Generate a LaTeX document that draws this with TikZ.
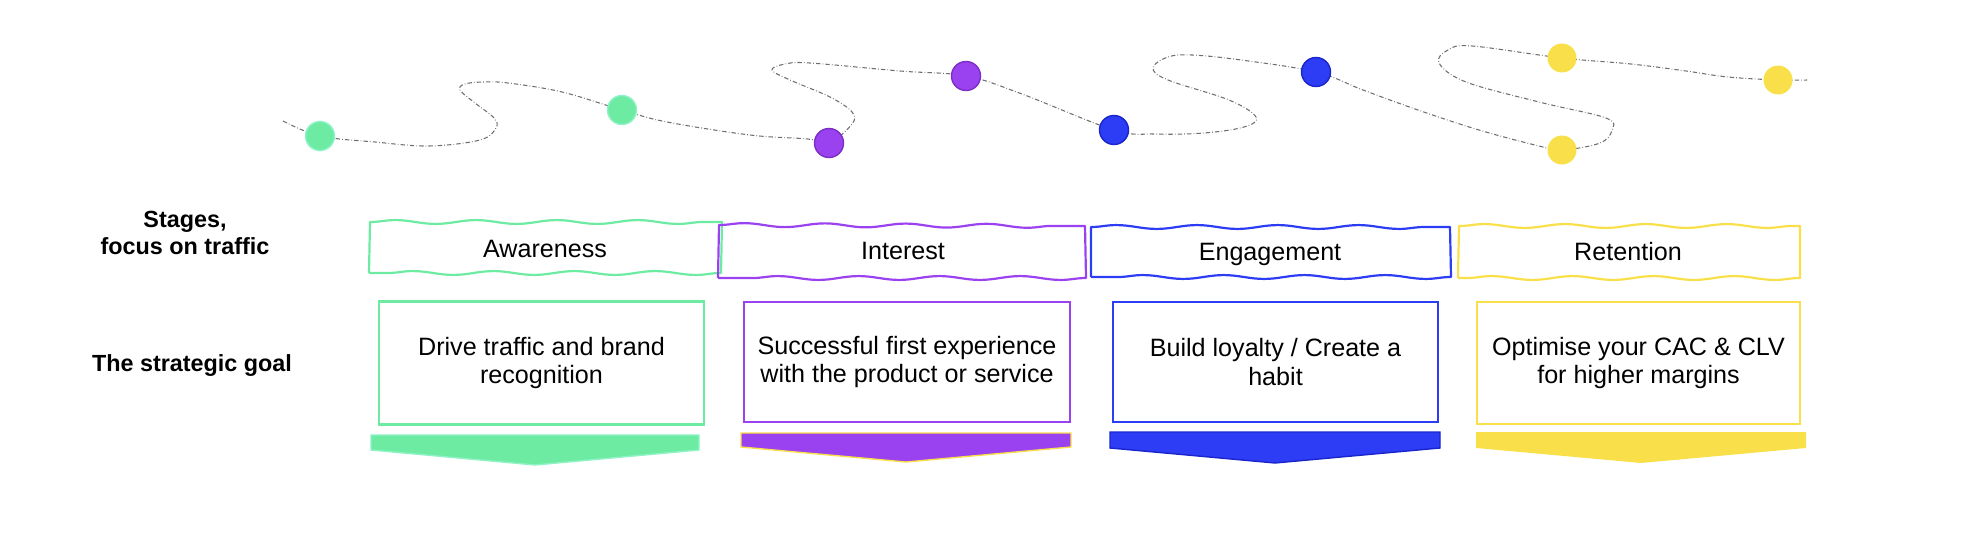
\documentclass[tikz,border=0pt]{standalone}
\usepackage{fontspec}
\setmainfont{Liberation Sans}
\usetikzlibrary{decorations.pathmorphing,backgrounds}
\definecolor{stgreen}{HTML}{6EEBA2}
\definecolor{stgreenline}{HTML}{8FF3C6}
\definecolor{stpurple}{HTML}{9B42F0}
\definecolor{stpurpleline}{HTML}{7A2FC4}
\definecolor{stblue}{HTML}{2D3CF5}
\definecolor{stblueline}{HTML}{1A26CC}
\definecolor{styellow}{HTML}{F9E04B}
\definecolor{trailgray}{HTML}{6E6E6E}

\begin{document}
\begin{tikzpicture}[x=0.02cm, y=-0.02cm,
    dot/.style={circle, minimum size=0.58cm, inner sep=0pt, line width=0.8pt},
    trail/.style={trailgray, line width=0.6pt, dash pattern=on 2.5pt off 1.2pt on 0.4pt off 1.2pt},
    wave/.style={decoration={snake, amplitude=1.1pt, segment length=46pt}},
    stageline/.style={line width=1.25pt, line join=round},
    stagetext/.style={anchor=base, font=\fontsize{14.3}{16}\selectfont},
    goal/.style={draw, line width=1.25pt, inner sep=0pt, align=center, font=\fontsize{14.3}{16.1}\selectfont},
    rowlabel/.style={align=center, font=\bfseries\fontsize{13.3}{15.4}\selectfont}]
      \useasboundingbox (0,0) rectangle (1964,548);
      % dots along the journey
      \node[dot, fill=stgreen, draw=stgreenline] (d1) at (320,136) {};
      \node[dot, fill=stgreen, draw=stgreenline] (d2) at (622,110) {};
      \node[dot, fill=stpurple, draw=stpurpleline] (d3) at (829,143) {};
      \node[dot, fill=stpurple, draw=stpurpleline] (d4) at (966,76) {};
      \node[dot, fill=stblue, draw=stblueline] (d5) at (1114,130) {};
      \node[dot, fill=stblue, draw=stblueline] (d6) at (1316,72) {};
      \node[dot, fill=styellow] (d7) at (1562,58) {};
      \node[dot, fill=styellow] (d8) at (1562,150) {};
      \node[dot, fill=styellow] (d9) at (1778,80) {};
      % the winding trail behind the dots
      \begin{scope}[on background layer]
        \draw[trail] plot[smooth, tension=0.6] coordinates {(283,121) (d1.center) (375,142) (429,146) (480,140)
          (496,128) (494,118) (475,103) (460,90) (465,84) (483,82) (508,83) (562,92) (d2.center)
          (667,122) (750,135) (808,139) (d3.center) (852,124) (852,112) (830,97) (790,80) (772,70)
          (785,64) (810,63) (900,71) (d4.center) (1022,94) (d5.center) (1156,134) (1204,133) (1244,127)
          (1256,117) (1229,100) (1168,80) (1153,68) (1168,57) (1192,55) (1241,60) (d6.center) (1363,90)
          (1418,110) (1479,130) (1539,146) (d8.center) (1600,143) (1612,130) (1606,118) (1539,102)
          (1466,82) (1439,63) (1448,50) (1472,46) (d7.center) (1631,64) (1686,71) (1728,77) (d9.center)
          (1807,80)};
      \end{scope}
      % row labels
      \node[rowlabel] (stages) at (185,233) {Stages,\\focus on traffic};
      \node[rowlabel, anchor=base] (goallabel) at (192,371) {The strategic goal};
      % stages, hand drawn boxes
      \draw[stgreen, stageline, wave] (369,273) -- (370,222) decorate {-- (722,222)} -- (721,273) decorate {-- (369,273)};
      \draw[stpurple, stageline, wave] (718,278) -- (719,225) decorate {-- (1085,226)} -- (1086,278) decorate {-- (718,278)};
      \draw[stblue, stageline, wave] (1091,277) -- (1091,227) decorate {-- (1450,227)} -- (1451,277) decorate {-- (1091,277)};
      \draw[styellow, stageline, wave] (1458,278) -- (1459,226) decorate {-- (1800,226)} -- (1800,278) decorate {-- (1458,278)};
      \node[stagetext] (aware) at (545,257) {Awareness};
      \node[stagetext] (interest) at (903,259) {Interest};
      \node[stagetext] (engage) at (1270,260) {Engagement};
      \node[stagetext] (retain) at (1628,260) {Retention};
      % goals
      \node[goal, draw=stgreen, minimum width=6.5cm, minimum height=2.46cm] (awgoal) at (541.5,363) {Drive traffic and brand\\recognition};
      \node[goal, draw=stpurple, minimum width=6.52cm, minimum height=2.4cm] (ingoal) at (907,362) {Successful first experience\\with the product or service};
      \node[goal, draw=stblue, minimum width=6.5cm, minimum height=2.4cm] (engoal) at (1275.5,362) {Build loyalty / Create a\\habit};
      \node[goal, draw=styellow, minimum width=6.46cm, minimum height=2.44cm] (regoal) at (1638.5,363) {Optimise your CAC \& CLV\\for higher margins};
      % chevrons under the goals
      \fill[stgreen, draw=stgreenline, line width=0.8pt] (371,435) -- (699,435) -- (699,450) -- (535,465) -- (371,450) -- cycle;
      \fill[stpurple, draw=styellow, line width=0.8pt] (741,433) -- (1071,433) -- (1071,447) -- (906,462) -- (741,447) -- cycle;
      \fill[stblue, draw=stblueline, line width=0.8pt] (1110,432) -- (1440,432) -- (1440,448) -- (1275,463) -- (1110,448) -- cycle;
      \fill[styellow] (1476,432) -- (1806,432) -- (1806,448) -- (1641,463) -- (1476,448) -- cycle;
    \end{tikzpicture}
\end{document}
